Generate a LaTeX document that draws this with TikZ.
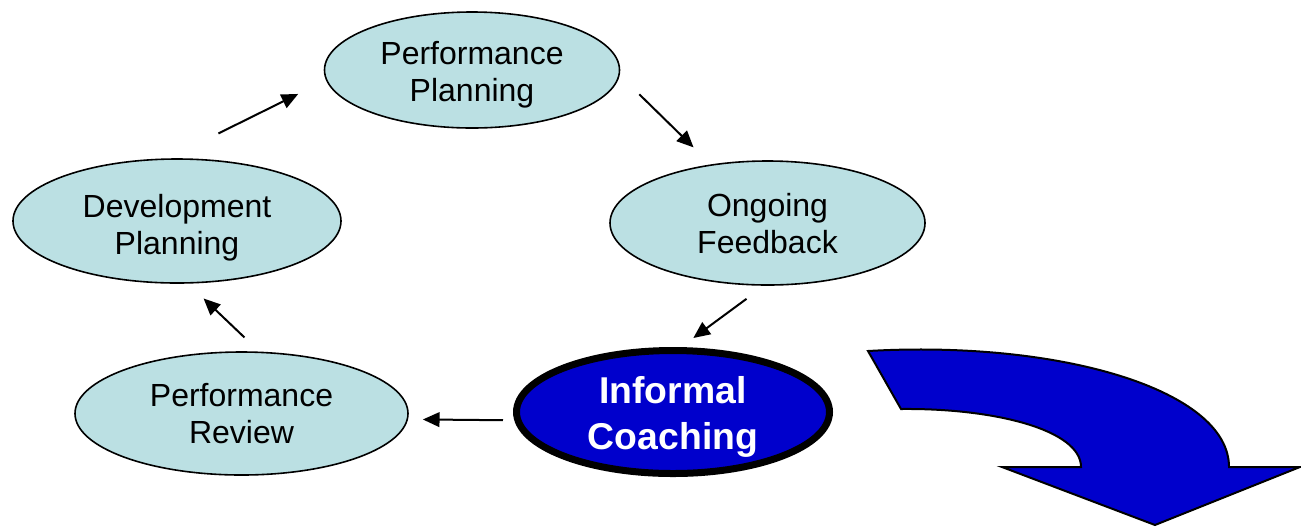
\documentclass[tikz,border=0pt]{standalone}
\usepackage{fontspec}
\setmainfont{Liberation Sans}
\usetikzlibrary{shapes.geometric,arrows.meta}
\definecolor{stagefill}{HTML}{BBE0E3}
\definecolor{coachblue}{HTML}{0000CC}
\begin{document}
\begin{tikzpicture}[x=0.75pt,y=-0.75pt,
  stage/.style={ellipse, draw=black, line width=1.2pt, fill=stagefill, inner sep=0pt},
  stagetext/.style={inner sep=0pt, align=center, font=\fontsize{24}{27.75}\selectfont},
  focus/.style={ellipse, draw=black, line width=5.25pt, fill=coachblue, inner sep=0pt},
  focustext/.style={inner sep=0pt, align=center, text=white,
    font=\fontsize{28}{34.5}\selectfont\bfseries},
  flow/.style={-{Triangle[length=12.5pt,width=11pt]}, line width=1.5pt},
  bigarrow/.style={fill=coachblue, draw=black, line width=1.5pt, line join=miter}]
\useasboundingbox (0,0) rectangle (1301,526);

% the five stages of the cycle
\node[stage, minimum width=221.25pt, minimum height=87pt] (pp) at (472,70) {};
\node[stage, minimum width=236.25pt, minimum height=93pt] (of) at (767.5,223) {};
\node[stage, minimum width=246pt, minimum height=93pt] (dev) at (177,221) {};
\node[stage, minimum width=249.75pt, minimum height=92.25pt] (pr) at (241.5,413.5) {};
\node[focus, minimum width=234.75pt, minimum height=92.25pt] (ic) at (673,412) {};

% stage captions
\node[stagetext] (pp-text) at ([yshift=-3.75pt]pp.center) {Performance\\Planning};
\node[stagetext] (of-text) at ([yshift=-0.75pt]of.center) {Ongoing\\Feedback};
\node[stagetext] (dev-text) at ([yshift=-5.25pt]dev.center) {Development\\Planning};
\node[stagetext] (pr-text) at (pr.center) {Performance\\Review};
\node[focustext] (ic-text) at ([yshift=-4pt]ic.center) {Informal\\Coaching};

% cycle connectors
\draw[flow, shorten <=42pt, shorten >=23.2pt] (dev.98.4) -- (pp.184);
\draw[flow, shorten <=20.5pt, shorten >=18.2pt] (pp.358) -- (of.134.8);
\draw[flow, shorten <=16.5pt, shorten >=11.5pt] (of.267.5) -- (ic.83.3);
\draw[flow, shorten <=8.5pt, shorten >=11.1pt] (ic.183) -- (pr.-2);
\draw[flow, shorten <=15.3pt, shorten >=16.1pt] (pr.74.5) -- (dev.280.8);

% large curved arrow
\draw[bigarrow] (868,351) .. controls (1060,340) and (1229,390) .. (1229,467)
  -- (1300,467) -- (1155,525) -- (1002,467) -- (1081,467)
  .. controls (1081,430) and (995,408) .. (901,409) -- cycle;
\end{tikzpicture}
\end{document}
